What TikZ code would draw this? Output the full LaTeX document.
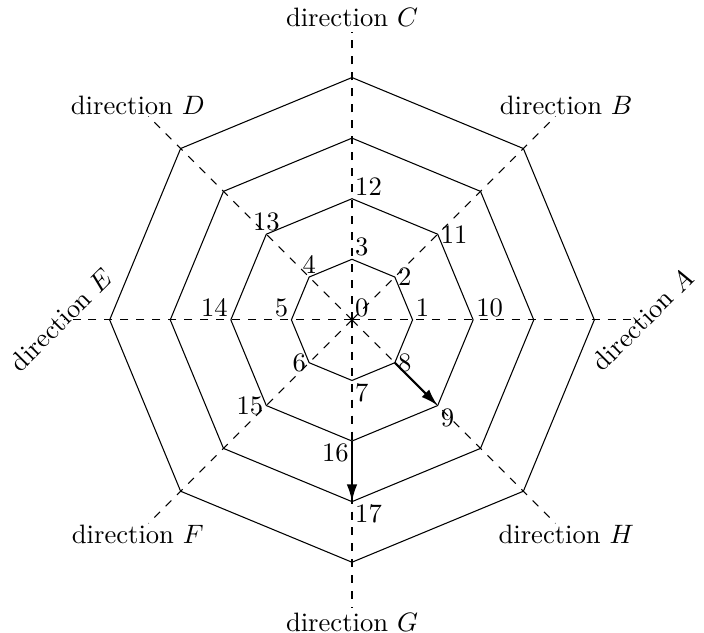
\documentclass[tikz,border=0pt]{standalone}
\usetikzlibrary{arrows.meta}
\begin{document}
\begin{tikzpicture}[x=0.8cm,y=0.8cm]
\tikzset{num/.style={inner sep=1pt},
  step arrow/.style={thick,-{Latex[length=6.5pt,width=4pt]}}}
\useasboundingbox (-5.81,-5.165) rectangle (5.81,5.28);
% directions
\foreach \a in {0,45,...,315}
  \draw[dashed] (0,0) -- (\a:4.75);
% rings
\foreach \r in {1,...,4}
  \draw (0:\r) \foreach \a in {45,90,...,315} {-- (\a:\r)} -- cycle;
\node[rotate=45] (dirA) at (0:4.8) {direction $A$};
\node (dirB) at (45:5) {direction $B$};
\node (dirC) at (90:5) {direction $C$};
\node (dirD) at (135:5) {direction $D$};
\node[rotate=45] (dirE) at (180:4.8) {direction $E$};
\node (dirF) at (225:5) {direction $F$};
\node (dirG) at (270:5) {direction $G$};
\node (dirH) at (315:5) {direction $H$};
% numbered points
\coordinate (n0) at (0,0);
\node[num,above right] (l0) at (n0) {0};
\foreach \i/\r/\a/\p in {1/1/0/above right, 2/1/45/right, 3/1/90/above right,
    4/1/135/above, 5/1/180/above left, 6/1/225/left, 7/1/270/below right,
    8/1/315/right, 9/2/315/below right, 10/2/0/above right, 11/2/45/right,
    12/2/90/above right, 13/2/135/above, 14/2/180/above left, 15/2/225/left,
    16/2/270/below left, 17/3/270/below right}
{
  \coordinate (n\i) at (\a:\r);
  \node[num,\p] (l\i) at (n\i) {\i};
}
\draw[step arrow] (n8) -- (n9);
\draw[step arrow] (n16) -- (n17);
\end{tikzpicture}
\end{document}
